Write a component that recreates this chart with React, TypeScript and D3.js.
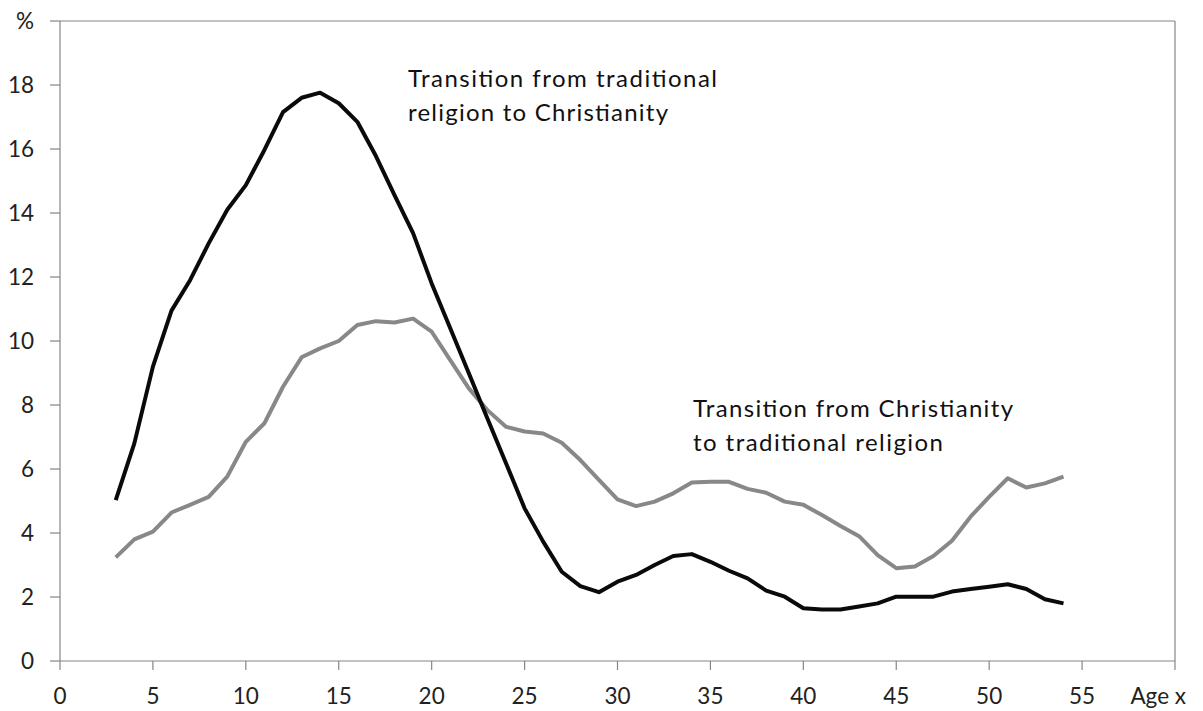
import React from "react";
import * as d3 from "d3";

const ages = [3,4,5,6,7,8,9,10,11,12,13,14,15,16,17,18,19,20,21,22,23,24,25,26,27,28,29,30,31,32,33,34,35,36,37,38,39,40,41,42,43,44,45,46,47,48,49,50,51,52,53,54];
const tradToChristian = [5.03,6.8,9.2,10.95,11.9,13.05,14.1,14.87,15.97,17.15,17.6,17.76,17.43,16.85,15.78,14.56,13.37,11.8,10.4,8.99,7.58,6.18,4.77,3.73,2.79,2.34,2.15,2.48,2.69,3.0,3.28,3.34,3.1,2.82,2.58,2.2,2.01,1.65,1.61,1.61,1.7,1.8,2.01,2.01,2.01,2.17,2.25,2.32,2.4,2.25,1.93,1.8];
const christianToTrad = [3.24,3.8,4.04,4.64,4.88,5.13,5.76,6.85,7.43,8.57,9.49,9.77,10.0,10.5,10.62,10.58,10.7,10.29,9.4,8.52,7.84,7.32,7.17,7.11,6.82,6.28,5.66,5.05,4.84,4.98,5.24,5.58,5.6,5.6,5.38,5.26,4.98,4.88,4.56,4.22,3.9,3.31,2.9,2.95,3.28,3.76,4.51,5.13,5.71,5.42,5.55,5.76];
const xTicks = [0,5,10,15,20,25,30,35,40,45,50,55,60];
const yTicks = [0,2,4,6,8,10,12,14,16,18,20];
const yTickLabels = ["0","2","4","6","8","10","12","14","16","18","%"];
const xTitle = "Age x";
const annotation1 = ["Transition from traditional", "religion to Christianity"];
const annotation1Widths = [309, 260];
const annotation2 = ["Transition from Christianity", "to traditional religion"];
const annotation2Widths = [320, 250];

const W = 1203, H = 711;
const left = 60, right = 1175, top = 21, bottom = 661;
const axisColor = "#868686";
const font = "Lato, 'Open Sans', sans-serif";

export default function App() {
  const x = d3.scaleLinear().domain([0, 60]).range([left, right]);
  const y = d3.scaleLinear().domain([0, 20]).range([bottom, top]);
  const line = d3.line<number>().x((_, i) => x(ages[i])).y(d => y(d));

  return (
    <svg width={W} height={H} style={{ position: "absolute", left: 0, top: 0, background: "#fff" }} fontFamily={font}>
      <rect x={0} y={0} width={W} height={H} fill="#fff" />
      <line x1={left} y1={top} x2={right} y2={top} stroke={axisColor} strokeWidth={1.2} />
      <line x1={right} y1={top} x2={right} y2={bottom} stroke={axisColor} strokeWidth={1.2} />
      <line x1={left} y1={top} x2={left} y2={bottom} stroke={axisColor} strokeWidth={1.2} />
      <line x1={left} y1={bottom} x2={right} y2={bottom} stroke={axisColor} strokeWidth={1.2} />
      {yTicks.map((t, i) => (
        <g key={"y" + t}>
          <line x1={left - 10} x2={left} y1={y(t)} y2={y(t)} stroke={axisColor} strokeWidth={1.2} />
          <text x={left - 26} y={y(t)} dy="0.36em" textAnchor="end" fontSize={22.5} fill="#222">{yTickLabels[i]}</text>
        </g>
      ))}
      {xTicks.map(t => (
        <g key={"x" + t}>
          <line x1={x(t)} x2={x(t)} y1={bottom} y2={bottom + 9} stroke={axisColor} strokeWidth={1.2} />
          {t < 60 && (
            <text x={x(t)} y={bottom + 35} dy="0.36em" textAnchor="middle" fontSize={22.5} fill="#222">{t}</text>
          )}
        </g>
      ))}
      <text x={1186} y={bottom + 35} dy="0.36em" textAnchor="end" fontSize={22.5} fill="#222">{xTitle}</text>

      <path d={line(christianToTrad) || ""} fill="none" stroke="#888888" strokeWidth={4} strokeLinejoin="round" />
      <path d={line(tradToChristian) || ""} fill="none" stroke="#0a0a0a" strokeWidth={4} strokeLinejoin="round" />

      {annotation1.map((s, i) => (
        <text key={"a1" + i} x={408} y={87 + i * 33.5} fontSize={24} fill="#111" textLength={annotation1Widths[i]} lengthAdjust="spacing">{s}</text>
      ))}
      {annotation2.map((s, i) => (
        <text key={"a2" + i} x={693} y={417 + i * 33.5} fontSize={24} fill="#111" textLength={annotation2Widths[i]} lengthAdjust="spacing">{s}</text>
      ))}
    </svg>
  );
}
